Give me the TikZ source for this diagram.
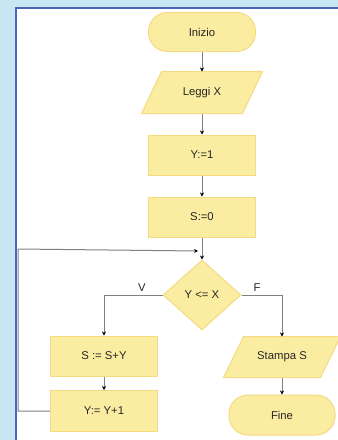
\documentclass[tikz,border=0pt]{standalone}
\usepackage{fontspec}
\setmainfont{Liberation Sans}
\usetikzlibrary{shapes.geometric,arrows.meta,backgrounds}
\definecolor{bgblue}{HTML}{C7E6F1}
\definecolor{frameblue}{HTML}{4A66B8}
\definecolor{boxfill}{HTML}{FAECA0}
\definecolor{boxline}{HTML}{F5DA82}
\definecolor{conn}{HTML}{808080}
\definecolor{txt}{HTML}{262626}
\tikzset{
  base/.style={draw=boxline, line width=1pt, fill=boxfill, text=txt, inner sep=0pt,
    font=\fontsize{11.3}{13}\selectfont},
  proc/.style={base, rectangle, minimum width=107pt, minimum height=40pt},
  term/.style={base, rectangle, rounded corners=19pt, minimum width=107pt, minimum height=39pt},
  io/.style={base, rectangle, draw=none, fill=none, minimum width=100pt, minimum height=41pt},
  iofill/.style={draw=boxline, line width=1pt, fill=boxfill, line join=miter},
  dec/.style={base, diamond, minimum width=78pt, minimum height=70pt},
  lbl/.style={text=txt, inner sep=0pt, font=\fontsize{11.3}{13}\selectfont},
  conn/.style={draw=conn, line width=1pt, -{Stealth[black,length=4pt,width=4pt]}},
}
\begin{document}
\begin{tikzpicture}[x=1pt,y=-1pt]
\useasboundingbox (0,0) rectangle (338,440);
\begin{pgfonlayer}{background}
\fill[bgblue] (0,0) rectangle (338,440);
\fill[white] (16,8) rectangle (338,440);
\draw[frameblue, line width=2pt] (16,440) -- (16,8) -- (338,8);
\end{pgfonlayer}

\node[term] (start) at (202,32) {Inizio};
\node[io] (leggi) at (202,92.5) {Leggi X};
\node[proc] (y1) at (202,155) {Y:=1};
\node[proc] (s0) at (202,217) {S:=0};
\node[dec] (cond) at (202,295) {Y <= X};
\node[proc] (ssy) at (104,356) {S := S+Y};
\node[proc, minimum height=41pt] (yy1) at (104,411) {Y:= Y+1};
\node[io, minimum width=96pt, minimum height=40pt] (stampa) at (282,357) {Stampa S};
\node[term, minimum width=106pt, minimum height=40pt] (fine) at (282,415) {Fine};

\begin{pgfonlayer}{background}
\path[iofill] ([xshift=10pt]leggi.north west) -- ([xshift=10pt]leggi.north east)
  -- ([xshift=-10pt]leggi.south east) -- ([xshift=-10pt]leggi.south west) -- cycle;
\path[iofill] ([xshift=10pt]stampa.north west) -- ([xshift=10pt]stampa.north east)
  -- ([xshift=-10pt]stampa.south east) -- ([xshift=-10pt]stampa.south west) -- cycle;
\end{pgfonlayer}

\node[lbl] (v) at (142,288) {V};
\node[lbl] (f) at (257,288) {F};

\coordinate (lc1) at (18,249);
\coordinate (lc2) at (198,251);

\draw[conn] (start) -- (leggi);
\draw[conn] (leggi) -- (y1);
\draw[conn] (y1) -- (s0);
\draw[conn] (s0) -- (cond);
\draw[conn] (cond.west) -| (ssy.north);
\draw[conn] (cond.east) -| (stampa.north);
\draw[conn] (ssy) -- (yy1);
\draw[conn] (stampa) -- (fine);
\draw[conn] (yy1.west) -| (lc1) -- (lc2);
\end{tikzpicture}
\end{document}
